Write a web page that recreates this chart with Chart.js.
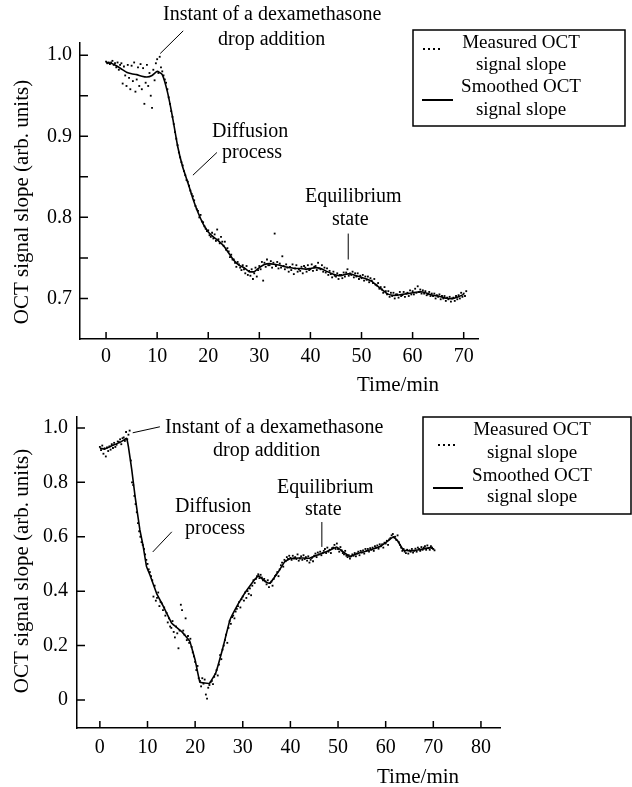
<!DOCTYPE html>
<html>
<head>
  <title>OCT signal slope</title>
  <script src="https://cdn.jsdelivr.net/npm/chart.js@4.4.1/dist/chart.umd.min.js"></script>
  <style>
    body { margin: 0; background: #fff; }
    canvas { position: absolute; left: 0; }
  </style>
</head>
<body>
  <canvas id="chartTop" width="632" height="395" style="top:0px"></canvas>
  <canvas id="chartBottom" width="632" height="392" style="top:395px"></canvas>

  <script>
    // ---- upper panel ----
    const smoothTime1 = [0, 1, 2, 3, 4, 5, 6, 7, 8, 9, 10, 11, 12, 13, 14, 15, 16, 17, 18, 19, 20,
      21, 22, 23, 24, 25, 26, 27, 28, 29, 30, 31, 32, 33, 34, 35, 36, 37, 38, 39, 40,
      41, 42, 43, 44, 45, 46, 47, 48, 49, 50, 51, 52, 53, 54, 55, 56, 57, 58, 59, 60,
      61, 62, 63, 64, 65, 66, 67, 68, 69, 70];
    const smoothSlope1 = [0.991, 0.990, 0.987, 0.983, 0.979, 0.977, 0.976, 0.974, 0.973, 0.975, 0.980,
      0.976, 0.955, 0.924, 0.888, 0.862, 0.843, 0.823, 0.806, 0.792, 0.782,
      0.776, 0.771, 0.765, 0.756, 0.747, 0.741, 0.738, 0.733, 0.733, 0.738,
      0.742, 0.743, 0.742, 0.741, 0.739, 0.738, 0.737, 0.737, 0.736, 0.737,
      0.738, 0.737, 0.734, 0.731, 0.729, 0.728, 0.730, 0.730, 0.728, 0.726,
      0.724, 0.721, 0.716, 0.711, 0.706, 0.704, 0.704, 0.705, 0.706, 0.707,
      0.708, 0.708, 0.706, 0.704, 0.703, 0.701, 0.700, 0.700, 0.702, 0.705];
    // measured slope, one row per minute starting at 0, samples 0.25 min apart
    const measured1 = [
      [.992, .990, .991, .989], [.991, .993, .988, .990], [.985, .991, .982, .988], [.990, .965, .986, .975],
      [.962, .988, .972, .958], [.987, .968, .991, .955], [.970, .985, .962, .989], [.958, .984, .940, .966],
      [.988, .962, .978, .950], [.935, .982, .969, .990], [.995, .978, .998, .985], [.980, .975, .970, .966],
      [.958, .948, .940, .931], [.924, .915, .905, .897], [.889, .880, .874, .868], [.864, .857, .852, .846],
      [.844, .839, .833, .829], [.826, .821, .814, .810], [.808, .800, .803, .795], [.794, .789, .786, .783],
      [.784, .778, .776, .781], [.774, .779, .771, .785], [.773, .768, .776, .770], [.765, .770, .760, .762],
      [.758, .751, .754, .748], [.748, .744, .739, .745], [.742, .738, .735, .741], [.736, .731, .740, .729],
      [.734, .728, .736, .724], [.731, .738, .727, .735], [.740, .736, .745, .722], [.744, .739, .748, .741],
      [.741, .746, .738, .744], [.780, .740, .745, .737], [.743, .738, .752, .740], [.736, .742, .738, .733],
      [.739, .735, .742, .730], [.737, .741, .733, .736], [.734, .739, .731, .740], [.738, .733, .741, .735],
      [.736, .742, .734, .739], [.740, .735, .744, .737], [.736, .741, .733, .738], [.732, .737, .729, .734],
      [.730, .726, .733, .728], [.727, .731, .724, .729], [.729, .725, .732, .727], [.732, .736, .728, .731],
      [.729, .733, .726, .731], [.727, .731, .724, .728], [.725, .729, .722, .727], [.723, .727, .720, .725],
      [.722, .719, .724, .717], [.716, .719, .712, .714], [.711, .707, .714, .709], [.705, .709, .702, .707],
      [.703, .707, .700, .705], [.705, .701, .708, .703], [.704, .708, .702, .706], [.707, .703, .710, .705],
      [.709, .705, .712, .707], [.715, .708, .711, .706], [.710, .706, .709, .704], [.705, .708, .703, .706],
      [.703, .706, .700, .704], [.702, .705, .699, .703], [.700, .703, .697, .701], [.699, .702, .696, .700],
      [.701, .697, .703, .699], [.704, .700, .707, .702], [.706, .703, .709]
    ];
    const xTicks1 = [0, 10, 20, 30, 40, 50, 60, 70];
    const yTicks1 = [0.7, 0.8, 0.9, 1.0];
    const yMinor1 = [0.75, 0.85, 0.95];

    // ---- lower panel ----
    const smoothTime2 = [0, 1, 2, 3, 4, 5, 5.6, 6, 6.7, 7.4, 8.4, 9.1, 9.8, 10.5, 11.9, 13.3, 15.1, 17.2,
      18.9, 20, 21, 23, 24.3, 25.8, 27.3, 29.1, 30.5, 32.4, 33.3, 35, 35.7, 37.5, 38.8, 40,
      42, 44, 46, 48, 49.7, 51, 52.5, 54, 55.5, 57, 58.8, 60.5, 61.6, 62.5, 63.7, 65, 67, 69.3, 70];
    const smoothSlope2 = [0.925, 0.922, 0.930, 0.938, 0.945, 0.955, 0.962, 0.930, 0.846, 0.747, 0.625,
      0.564, 0.490, 0.460, 0.392, 0.345, 0.282, 0.251, 0.215, 0.147, 0.065, 0.061, 0.098, 0.190,
      0.294, 0.355, 0.395, 0.441, 0.456, 0.432, 0.429, 0.472, 0.508, 0.520, 0.522, 0.521, 0.535,
      0.548, 0.562, 0.545, 0.527, 0.538, 0.545, 0.553, 0.564, 0.585, 0.600, 0.585, 0.551, 0.548,
      0.552, 0.560, 0.555];
    const measured2 = [
      [.930, .918, .935, .905], [.925, .895, .928, .915], [.932, .920, .940, .926], [.945, .930, .938, .950],
      [.948, .958, .940, .962], [.965, .952, .985, .958], [.975, .990, .880, .800], [.790, .750, .720, .690],
      [.650, .620, .600, .580], [.570, .555, .535, .515], [.500, .480, .470, .455], [.440, .380, .420, .365],
      [.375, .395, .345, .360], [.355, .330, .340, .310], [.320, .285, .300, .270], [.265, .290, .250, .230],
      [.270, .245, .190, .255], [.350, .330, .255, .240], [.300, .220, .235, .210], [.225, .195, .175, .160],
      [.140, .110, .125, .080], [.070, .050, .080, .060], [.075, .020, .005, .045], [.055, .065, .070, .058],
      [.085, .095, .110, .090], [.130, .165, .150, .185], [.200, .220, .240, .210], [.265, .290, .280, .305],
      [.310, .300, .325, .335], [.345, .360, .340, .370], [.380, .365, .395, .375], [.400, .390, .410, .385],
      [.420, .440, .430, .445], [.455, .462, .448, .460], [.450, .440, .445, .436], [.425, .440, .415, .430],
      [.435, .420, .445, .455], [.460, .470, .455, .480], [.495, .505, .490, .515], [.510, .525, .518, .530],
      [.522, .515, .530, .520], [.525, .518, .535, .512], [.520, .528, .515, .532], [.518, .525, .512, .528],
      [.505, .515, .522, .510], [.530, .538, .525, .542], [.535, .545, .532, .540], [.548, .555, .540, .560],
      [.545, .552, .540, .558], [.560, .570, .555, .575], [.555, .545, .562, .550], [.540, .535, .548, .530],
      [.525, .532, .520, .528], [.535, .530, .540, .528], [.538, .545, .532, .548], [.542, .550, .538, .555],
      [.548, .555, .545, .558], [.552, .560, .548, .565], [.560, .568, .556, .572], [.565, .572, .560, .578],
      [.575, .585, .570, .590], [.595, .605, .610, .598], [.600, .588, .605, .580], [.570, .560, .548, .555],
      [.545, .540, .552, .538], [.550, .545, .555, .542], [.548, .556, .545, .560], [.555, .548, .562, .552],
      [.560, .565, .552, .568], [.558, .552, .565, .560], [.555, .550]
    ];
    const xTicks2 = [0, 10, 20, 30, 40, 50, 60, 70, 80];
    const yTicks2 = [0, 0.2, 0.4, 0.6, 0.8, 1.0];

    const sampleStep = 0.25;
    const FONT = '"Liberation Serif", "Times New Roman", serif';

    function toPoints(rows) {
      const pts = [];
      rows.forEach((row, i) => row.forEach((v, j) => pts.push({ x: i + j * sampleStep, y: v })));
      return pts;
    }

    function zip(ts, vs) {
      return ts.map((t, i) => ({ x: t, y: vs[i] }));
    }

    // draws inward ticks, axis titles, notes and the boxed legend
    const decorPlugin = {
      id: 'decor',
      afterDraw(chart, args, opts) {
        const ctx = chart.ctx;
        const xs = chart.scales.x, ys = chart.scales.y;
        const area = chart.chartArea;
        ctx.save();
        ctx.strokeStyle = '#000';
        ctx.fillStyle = '#000';
        ctx.lineWidth = 1.5;

        ctx.beginPath();
        opts.xTicks.forEach(v => {
          const px = xs.getPixelForValue(v);
          ctx.moveTo(px, area.bottom);
          ctx.lineTo(px, area.bottom - 7);
        });
        opts.yTicks.concat(opts.yMinor || []).forEach(v => {
          const py = ys.getPixelForValue(v);
          ctx.moveTo(area.left, py);
          ctx.lineTo(area.left + 8, py);
        });
        ctx.stroke();

        // leader lines
        ctx.lineWidth = 1;
        ctx.beginPath();
        opts.leaders.forEach(l => {
          ctx.moveTo(xs.getPixelForValue(l[0]), ys.getPixelForValue(l[1]));
          ctx.lineTo(xs.getPixelForValue(l[2]), ys.getPixelForValue(l[3]));
        });
        ctx.stroke();

        ctx.font = '20px ' + FONT;
        ctx.textBaseline = 'middle';
        ctx.textAlign = 'left';
        opts.notes.forEach(n => ctx.fillText(n.text, n.x, n.y));

        // axis titles
        ctx.font = '21px ' + FONT;
        ctx.textAlign = 'left';
        ctx.fillText('Time/min', opts.xTitle.x, opts.xTitle.y);
        ctx.save();
        ctx.translate(opts.yTitle.x, opts.yTitle.y);
        ctx.rotate(-Math.PI / 2);
        ctx.textAlign = 'center';
        ctx.fillText('OCT signal slope (arb. units)', 0, 0);
        ctx.restore();

        // legend box
        const lg = opts.legend;
        ctx.lineWidth = 1.5;
        ctx.strokeRect(lg.x, lg.y, lg.w, lg.h);
        ctx.font = '19px ' + FONT;
        ctx.textAlign = 'center';
        lg.lines.forEach((t, i) => ctx.fillText(t, lg.textX, lg.rows[i]));
        for (let k = 0; k < 4; k++) {
          ctx.fillRect(lg.dotX + k * 5, lg.dotY - 1, 2, 2);
        }
        ctx.lineWidth = 2;
        ctx.beginPath();
        ctx.moveTo(lg.lineX1, lg.lineY);
        ctx.lineTo(lg.lineX2, lg.lineY);
        ctx.stroke();
        ctx.restore();
      }
    };

    function makeChart(id, p) {
      const ctx = document.getElementById(id).getContext('2d');
      return new Chart(ctx, {
        type: 'scatter',
        data: {
          datasets: [{
            label: 'Measured OCT signal slope',
            data: toPoints(p.measured),
            pointStyle: 'rect',
            pointRadius: 1.3,
            borderWidth: 0,
            backgroundColor: '#000'
          }, {
            label: 'Smoothed OCT signal slope',
            data: zip(p.smoothT, p.smoothV),
            showLine: true,
            borderColor: '#000',
            borderWidth: 1.6,
            pointRadius: 0,
            tension: p.tension
          }]
        },
        options: {
          responsive: false,
          animation: false,
          devicePixelRatio: 1,
          events: [],
          layout: { padding: p.padding },
          plugins: {
            legend: { display: false },
            tooltip: { enabled: false },
            decor: p.decor
          },
          scales: {
            x: {
              type: 'linear',
              min: p.xRange[0],
              max: p.xRange[1],
              grid: { display: false, drawTicks: false },
              border: { display: true, color: '#000', width: 1.5 },
              ticks: { color: '#000', font: { family: FONT, size: 20 }, padding: p.xPad },
              afterBuildTicks: s => { s.ticks = p.decor.xTicks.map(v => ({ value: v })); },
              afterFit: s => { s.height = p.xHeight; }
            },
            y: {
              type: 'linear',
              min: p.yRange[0],
              max: p.yRange[1],
              grid: { display: false, drawTicks: false },
              border: { display: true, color: '#000', width: 1.5 },
              ticks: {
                color: '#000', font: { family: FONT, size: 20 }, padding: p.yPad,
                callback: v => (v === 0 ? '0' : v.toFixed(1))
              },
              afterBuildTicks: s => { s.ticks = p.decor.yTicks.map(v => ({ value: v })); },
              afterFit: s => { s.width = p.yWidth; }
            }
          }
        },
        plugins: [decorPlugin]
      });
    }

    makeChart('chartTop', {
      measured: measured1, smoothT: smoothTime1, smoothV: smoothSlope1,
      xRange: [-5.1, 72.8], yRange: [0.65, 1.015], tension: 0.15,
      padding: { left: 0, top: 43, right: 154, bottom: 0 },
      yWidth: 80, xHeight: 56, xPad: 6, yPad: 8,
      decor: {
        xTicks: xTicks1, yTicks: yTicks1, yMinor: yMinor1,
        leaders: [[10.6, 1.002, 15.1, 1.030], [17.0, 0.852, 21.7, 0.880], [47.4, 0.748, 47.4, 0.780]],
        notes: [
          { text: 'Instant of a dexamethasone', x: 163, y: 15 },
          { text: 'drop addition', x: 218, y: 40 },
          { text: 'Diffusion', x: 212, y: 132 },
          { text: 'process', x: 222, y: 153 },
          { text: 'Equilibrium', x: 305, y: 197 },
          { text: 'state', x: 332, y: 220 }
        ],
        xTitle: { x: 357, y: 385 },
        yTitle: { x: 22, y: 202 },
        legend: {
          x: 413, y: 30, w: 212, h: 96, textX: 521,
          lines: ['Measured OCT', 'signal slope', 'Smoothed OCT', 'signal slope'],
          rows: [43, 65, 87, 110],
          dotX: 423, dotY: 49, lineX1: 422, lineX2: 453, lineY: 100
        }
      }
    });

    makeChart('chartBottom', {
      measured: measured2, smoothT: smoothTime2, smoothV: smoothSlope2,
      xRange: [-4.8, 84], yRange: [-0.103, 1.04], tension: 0.05,
      padding: { left: 0, top: 22, right: 132, bottom: 0 },
      yWidth: 77, xHeight: 59, xPad: 8, yPad: 9,
      decor: {
        xTicks: xTicks2, yTicks: yTicks2, yMinor: [],
        leaders: [[6.9, 0.982, 12.6, 1.004], [11.1, 0.544, 15.1, 0.618], [46.6, 0.5625, 46.6, 0.654]],
        notes: [
          { text: 'Instant of a dexamethasone', x: 165, y: 33 },
          { text: 'drop addition', x: 213, y: 56 },
          { text: 'Diffusion', x: 175, y: 112 },
          { text: 'process', x: 185, y: 134 },
          { text: 'Equilibrium', x: 277, y: 93 },
          { text: 'state', x: 305, y: 115 }
        ],
        xTitle: { x: 377, y: 382 },
        yTitle: { x: 22, y: 176 },
        legend: {
          x: 423, y: 22, w: 208, h: 97, textX: 532,
          lines: ['Measured OCT', 'signal slope', 'Smoothed OCT', 'signal slope'],
          rows: [35, 58, 81, 102],
          dotX: 438, dotY: 50, lineX1: 433, lineX2: 463, lineY: 93
        }
      }
    });
  </script>
</body>
</html>
